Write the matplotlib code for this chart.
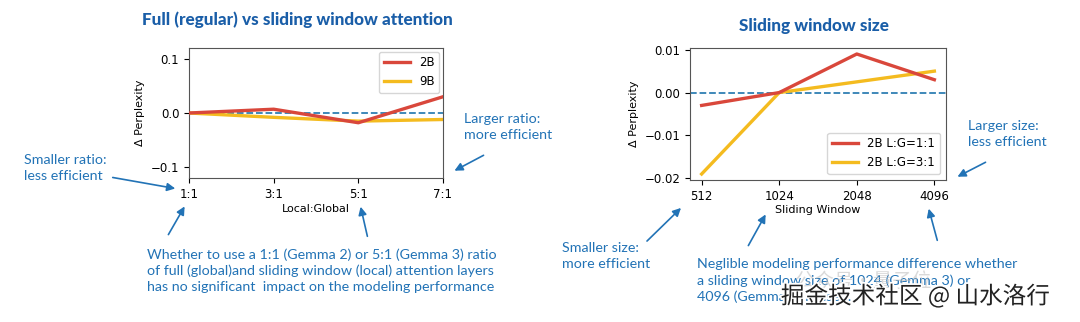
import matplotlib
matplotlib.use("Agg")
import matplotlib.pyplot as plt
import matplotlib.patheffects as pe

# datos: panel izquierdo (proporcion local:global)
ratios = ["1:1", "3:1", "5:1", "7:1"]
ratio_x = [1, 3, 5, 7]
ppl_2b = [0.0, 0.007, -0.018, 0.030]
ppl_9b = [0.0, -0.008, -0.015, -0.012]

# datos: panel derecho (tamano de ventana)
windows = ["512", "1024", "2048", "4096"]
win_11 = [-0.003, 0.0, 0.009, 0.003]
win_31 = [-0.019, 0.0, 0.0025, 0.005]

RED = "#d9473b"
YEL = "#f4bb1f"
DASH = "#2f7fb3"
BLUE = "#2273b6"
TITLE = "#1a5ea8"

W, H = 1080, 322
fig = plt.figure(figsize=(W / 100, H / 100), dpi=100)


def px(x, y):
    return (x / W, 1 - y / H)


def box(l, t, r, b):
    return [l / W, 1 - b / H, (r - l) / W, (b - t) / H]


# panel izquierdo
ax1 = fig.add_axes(box(189, 48, 443, 178))
ax1.axhline(0, color=DASH, lw=1.3, ls="--", zorder=1)
ax1.plot(ratio_x, ppl_2b, color=RED, lw=2.4, label="2B", zorder=3)
ax1.plot(ratio_x, ppl_9b, color=YEL, lw=2.4, label="9B", zorder=2)
ax1.set_xlim(1, 7)
ax1.set_ylim(-0.12, 0.12)
ax1.set_xticks(ratio_x)
ax1.set_xticklabels(ratios)
ax1.set_yticks([-0.1, 0.0, 0.1])
ax1.set_xlabel("Local:Global", fontsize=8, labelpad=2)
ax1.set_ylabel("Δ Perplexity", fontsize=8)
ax1.tick_params(labelsize=8.5)
ax1.legend(loc="upper right", fontsize=8.5, handlelength=2.2, borderaxespad=0.3)

# panel derecho
ax2 = fig.add_axes(box(690, 48, 946, 180))
ax2.axhline(0, color=DASH, lw=1.3, ls="--", zorder=1)
ax2.plot(windows, win_11, color=RED, lw=2.4, label="2B L:G=1:1", zorder=3)
ax2.plot(windows, win_31, color=YEL, lw=2.4, label="2B L:G=3:1", zorder=2)
ax2.set_yticks([-0.02, -0.01, 0.0, 0.01])
ax2.set_xlabel("Sliding Window", fontsize=8, labelpad=2)
ax2.set_ylabel("Δ Perplexity", fontsize=8)
ax2.tick_params(labelsize=8.5)
ax2.legend(loc="lower right", fontsize=8.5, handlelength=2.2)

for ax in (ax1, ax2):
    for s in ax.spines.values():
        s.set_color("#555555")

# titulos
fig.text(*px(297, 20), "Full (regular) vs sliding window attention", ha="center", va="center",
         fontsize=12.3, fontweight=900, color=TITLE, family="Lato")
fig.text(*px(814, 26), "Sliding window size", ha="center", va="center",
         fontsize=12.3, fontweight=900, color=TITLE, family="Lato")

# anotaciones
txt = dict(color=BLUE, fontsize=10.3, family="Lato", va="top", ha="left", linespacing=1.38)
fig.text(*px(24, 154), "Smaller ratio:\nless efficient", **txt)
fig.text(*px(464, 113), "Larger ratio:\nmore efficient", **txt)
fig.text(*px(147, 248),
         "Whether to use a 1:1 (Gemma 2) or 5:1 (Gemma 3) ratio\n"
         "of full (global)and sliding window (local) attention layers\n"
         "has no significant  impact on the modeling performance", **txt)
fig.text(*px(968, 120), "Larger size:\nless efficient", **txt)
fig.text(*px(562, 242), "Smaller size:\nmore efficient", **txt)
fig.text(*px(697, 258),
         "Neglible modeling performance difference whether\n"
         "a sliding window size of 1024 (Gemma 3) or\n"
         "4096 (Gemma 2) is used.", **txt)

arrows = [
    ((110, 177), (178, 189)),
    ((486, 154), (452, 172)),
    ((167, 237), (186, 204)),
    ((368, 239), (360, 204)),
    ((988, 161), (955, 178)),
    ((645, 243), (683, 206)),
    ((747, 248), (767, 212)),
    ((938, 243), (928, 206)),
]
for start, end in arrows:
    fig.add_artist(matplotlib.patches.FancyArrowPatch(
        px(*start), px(*end), transform=fig.transFigure,
        arrowstyle="-|>", mutation_scale=12, color=BLUE, lw=1.2))

# marca de agua
fig.text(*px(795, 281), "公众号・量子位", fontsize=14, color="#bbbbbb", alpha=0.55,
         family=["Noto Sans CJK SC", "DejaVu Sans"], va="center", ha="left")
fig.text(*px(1050, 296), "掘金技术社区 @ 山水洛行", fontsize=17, color="#222222",
         family=["Noto Sans CJK SC", "DejaVu Sans"], va="center", ha="right",
         path_effects=[pe.withStroke(linewidth=2.5, foreground="white")])

fig.savefig("out.png", dpi=100)
